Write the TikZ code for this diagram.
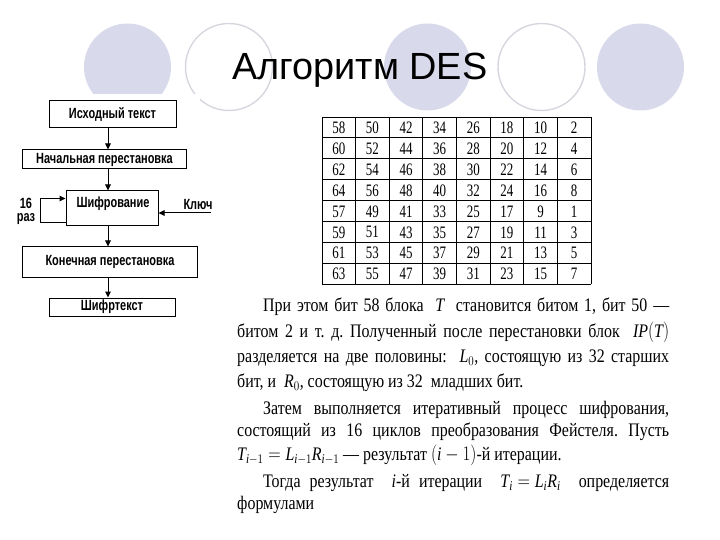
\documentclass[tikz,border=0pt]{standalone}
\usepackage{fontspec}
\usepackage{amsmath}
\usepackage{graphicx}
\setmainfont{Liberation Serif}
\newfontfamily\arialf{Liberation Sans}
\usetikzlibrary{arrows.meta}
\definecolor{circfill}{RGB}{217,217,236}
\definecolor{circline}{RGB}{214,214,222}
\newcommand\vst[1]{\scalebox{1}[1.35]{#1}}
\newcommand\vtx[1]{\scalebox{1}[1.2]{#1}}
\newcommand\jl[2]{\vtx{\makebox[#1][s]{#2}}}
\newcommand\mm[1]{\mbox{$#1$}}
\frenchspacing
\begin{document}
\begin{tikzpicture}[x=1bp,y=-1bp,
  fbox/.style={draw, line width=1bp, inner sep=0pt, font=\arialf\bfseries\fontsize{11}{12}\selectfont},
  flab/.style={inner sep=0pt, font=\arialf\bfseries\fontsize{11}{12}\selectfont},
  arr/.style={line width=1bp, -{Triangle[length=6bp,width=5.5bp]}},
  cell/.style={inner sep=0pt, font=\fontsize{13}{14}\selectfont},
  txt/.style={inner sep=0pt, anchor=base west, font=\fontsize{16}{18}\selectfont}]
\useasboundingbox (0,0) rectangle (720,540);
% decorative circles
\fill[circfill] (127.5,67) circle[radius=43.5bp];
\draw[circline, line width=1.4bp] (229,67) circle[radius=43.5bp];
\fill[circfill] (427.5,67) circle[radius=43.5bp];
\draw[circline, line width=1.4bp] (541.5,67) circle[radius=43.5bp];
\fill[circfill] (640.5,67) circle[radius=43.5bp];
\fill[white] (0,94) rectangle (200,330);
\fill[white] (300,112) rectangle (610,290);
% title
\node[anchor=base west, inner sep=0pt, font=\arialf\fontsize{38}{40}\selectfont] (title) at (232,80) {Алгоритм DES};
% flowchart
\coordinate (ax) at (108,0);
\node[fbox, minimum width=127bp, minimum height=27bp] (src) at (112.5,114.5) {\vst{Исходный текст}};
\node[fbox, minimum width=163bp, minimum height=19bp] (ip) at (104.5,159.5) {\vst{Начальная перестановка}};
\node[fbox, minimum width=92bp, minimum height=35bp] (enc) at (112,208.5) {};
\node[flab] (enclab) at (113,204) {\vst{Шифрование}};
\node[fbox, minimum width=174bp, minimum height=30bp] (fp) at (110,262) {\vst{Конечная перестановка}};
\node[fbox, minimum width=126bp, minimum height=18bp] (ct) at (112,307) {\vst{Шифртекст}};
\draw[arr] (src.south -| ax) -- (ip.north -| ax);
\draw[arr] (ip.south -| ax) -- (enc.north -| ax);
\draw[arr] (enc.south -| ax) -- (fp.north -| ax);
\draw[arr] (fp.south -| ax) -- (ct.north -| ax);
\coordinate (lp1) at (40,223);
\coordinate (lp2) at (40,198.5);
\draw[arr] (enc.west |- lp1) -- (lp1) -- (lp2) -- (enc.west |- lp2);
\node[flab] (n16) at (26,203) {\vst{16}};
\node[flab] (nraz) at (26,219) {\vst{раз}};
\node[flab] (key) at (198,204) {\vst{Ключ}};
\coordinate (ks) at (211,213);
\draw[arr] (ks) -- (enc.east |- ks);
% table
\foreach \k in {0,...,8} {
  \draw[line width=0.9bp] ({322+33.625*\k},117) -- ({322+33.625*\k},284);
  \draw[line width=0.9bp] (322,{117+20.875*\k}) -- (591,{117+20.875*\k});
}
\foreach \r in {0,...,7} {
  \foreach \c in {0,...,7} {
    \pgfmathtruncatemacro\v{\r<4 ? 58+2*\r-8*\c : 57+2*(\r-4)-8*\c}
    \node[cell] (c\r\c) at ({322+33.625*(\c+0.5)},{117+20.875*(\r+0.5)+0.5}) {\vst{\v}};
  }
}
% text
\node[txt] (t1) at (263,311) {\jl{406bp}{При этом бит 58 блока \ \mm{\textit{T}} \ становится битом 1, бит 50 —}};
\node[txt] (t2) at (237,337) {\jl{432bp}{битом 2 и т. д. Полученный после перестановки блок \ \mm{\textit{IP}(\textit{T})}}};
\node[txt] (t3) at (237,362) {\jl{432bp}{разделяется на две половины: \ \mm{\textit{L}_0}, состоящую из 32 старших}};
\node[txt] (t4) at (237,387) {\vtx{бит, и \ \mm{\textit{R}_0}, состоящую из 32 \ младших бит.}};
\node[txt] (t5) at (263,414) {\jl{406bp}{Затем выполняется итеративный процесс шифрования,}};
\node[txt] (t6) at (237,436) {\jl{432bp}{состоящий из 16 циклов преобразования Фейстеля. Пусть}};
\node[txt] (t7) at (237,460) {\vtx{\mm{\textit{T}_{\textit{i}-1}=\textit{L}_{\textit{i}-1}\textit{R}_{\textit{i}-1}} — результат \mm{(\textit{i}-1)}-й итерации.}};
\node[txt] (t8) at (263,487) {\jl{406bp}{Тогда результат \ \mm{\textit{i}}-й итерации \ \mm{\textit{T}_{\textit{i}}=\textit{L}_{\textit{i}}\textit{R}_{\textit{i}}} \ определяется}};
\node[txt] (t9) at (237,509) {\vtx{формулами}};
\end{tikzpicture}
\end{document}
